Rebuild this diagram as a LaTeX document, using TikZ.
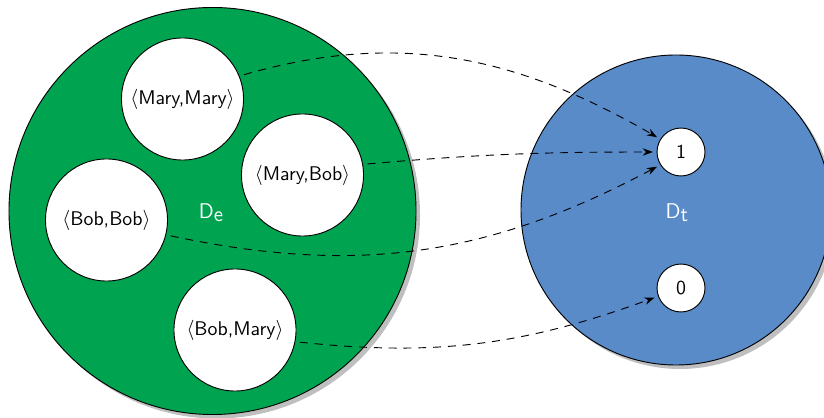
\documentclass[tikz,border=0pt]{standalone}
\usetikzlibrary{shadows,arrows.meta}
\definecolor{domgreen}{RGB}{0,164,80}
\definecolor{domblue}{RGB}{88,139,200}
\newcommand{\domlabel}[1]{D\raisebox{-0.35ex}{#1}}
\begin{document}
\begin{tikzpicture}[x=0.54pt,y=-0.54pt,font=\sffamily\fontsize{10.7}{13}\selectfont,
  domcircle/.style={circle,draw=black,line width=0.5pt,drop shadow,inner sep=0pt},
  pairnode/.style={circle,draw=black,fill=white,line width=0.5pt,minimum size=65.9pt,inner sep=0pt},
  valnode/.style={circle,draw=black,fill=white,line width=0.5pt,minimum size=25.9pt,inner sep=0pt},
  maparrow/.style={dash pattern=on 4.3pt off 3.7pt,line width=0.5pt,
    shorten <=2.5pt,shorten >=2pt,-{Stealth[length=5.5pt,width=4pt]}}]
\useasboundingbox (0,0) rectangle (824,418);
\clip (0,0) rectangle (824,418);
% the two domains
\node[domcircle,fill=domgreen,minimum size=219.8pt] (De) at (212.5,211) {};
\node[domcircle,fill=domblue,minimum size=167.4pt] (Dt) at (676,210) {};
\node[text=white,font=\sffamily\fontsize{11.5}{14}\selectfont] (lDe) at (211,213) {\domlabel{e}};
\node[text=white,font=\sffamily\fontsize{11.5}{14}\selectfont] (lDt) at (677,213) {\domlabel{t}};
% pairs of entities
\node[pairnode] (mm) at (182.5,99) {$\langle$Mary,Mary$\rangle$};
\node[pairnode] (mb) at (302.5,175) {$\langle$Mary,Bob$\rangle$};
\node[pairnode] (bb) at (106.5,220) {$\langle$Bob,Bob$\rangle$};
\node[pairnode] (bm) at (235,330) {$\langle$Bob,Mary$\rangle$};
% truth values
\node[valnode] (one) at (681,152) {1};
\node[valnode] (zero) at (681,288) {0};
% the mapping
\draw[maparrow] (mm.22) to[out=16,in=150] (one.148);
\draw[maparrow] (mb.10) to[out=5,in=180] (one.west);
\draw[maparrow] (bb.-14) to[out=-12,in=208] (one.212);
\draw[maparrow] (bm.-11) to[out=-6,in=200] (zero.200);
\end{tikzpicture}
\end{document}
